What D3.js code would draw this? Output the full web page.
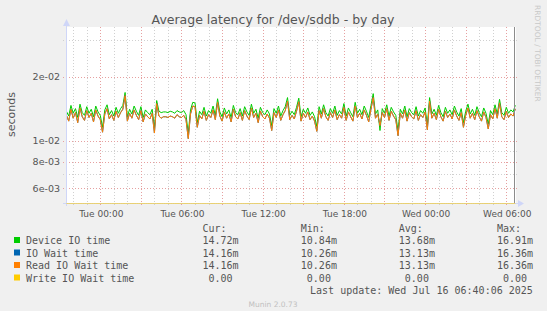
<!DOCTYPE html>
<html>
<head>
<meta charset="utf-8">
<script src="https://cdn.jsdelivr.net/npm/d3@7"></script>
<style>
  html, body { margin: 0; padding: 0; background: #f0f0f0; }
  svg { display: block; }
</style>
</head>
<body>
<svg id="chart" width="547" height="311"></svg>
<script>
// chart texts
const chartTitle = "Average latency for /dev/sddb - by day";
const yLabel = "seconds";
const lastUpdate = "Last update: Wed Jul 16 06:40:06 2025";
const muninVersion = "Munin 2.0.73";
const rrdCredit = "RRDTOOL / TOBI OETIKER";

// time axis: samples every 10 minutes starting here
const sampleStart = "2025-07-14T21:30";
const sampleStepMinutes = 10;
const axisStart = "2025-07-14T21:28";
const axisEnd = "2025-07-16T06:43";

// y ticks (log scale)
const yMajorTicks = [6e-3, 8e-3, 1e-2, 2e-2];
const yMajorLabels = ["6e-03", "8e-03", "1e-02", "2e-02"];
const yMinorTicks = [7e-3, 9e-3, 3e-2];
const yDomain = [5.11e-3, 3.436e-2];

// series values in milliseconds (m)
const deviceIO = [
  13.8, 13.1, 14.7, 13.5, 14.2, 12.9, 14.9, 13.6, 13.2, 14.5,
  13.5, 14.1, 13.0, 14.6, 13.7, 13.2, 11.6, 14.0, 14.8, 13.3,
  13.9, 13.1, 14.4, 13.5, 14.2, 14.7, 16.91, 13.0, 14.1, 13.4,
  14.6, 13.8, 13.2, 14.5, 12.9, 14.0, 13.6, 13.3, 14.1, 11.5,
  15.5, 13.8, 13.6, 13.7, 13.7, 13.6, 13.8, 13.7, 13.5, 13.9,
  13.7, 13.6, 13.9, 13.3, 10.84, 14.0, 15.2, 15.1, 12.2, 13.8,
  13.3, 14.4, 13.1, 13.9, 13.5, 14.6, 13.2, 15.8, 13.7, 13.0,
  14.3, 13.4, 14.0, 12.9, 14.7, 13.6, 13.3, 14.2, 13.1, 14.5,
  13.7, 13.2, 14.9, 13.5, 14.1, 12.8, 14.4, 13.6, 13.3, 14.0,
  13.4, 11.8, 14.2, 13.5, 14.6, 13.1, 13.9, 14.5, 16.0, 13.2,
  13.8, 13.3, 14.4, 15.9, 13.0, 14.1, 13.5, 14.3, 13.2, 13.7,
  13.0, 11.7, 14.5, 13.4, 14.8, 13.6, 13.1, 14.2, 13.5, 14.6,
  13.2, 13.9, 13.4, 15.0, 13.1, 14.3, 13.6, 13.0, 15.2, 13.5,
  14.1, 13.3, 14.6, 13.8, 12.9, 14.7, 16.7, 13.4, 14.0, 11.2,
  14.2, 13.5, 14.8, 13.1, 14.4, 13.7, 13.2, 11.2, 14.1, 13.4,
  14.6, 13.0, 14.2, 13.6, 13.3, 14.5, 13.1, 13.9, 13.5, 14.3,
  11.9, 16.0, 13.4, 14.1, 13.2, 14.7, 13.6, 13.0, 14.4, 13.5,
  14.0, 13.3, 14.6, 13.7, 13.1, 14.2, 12.2, 13.8, 14.9, 13.4,
  14.1, 13.2, 14.5, 13.6, 13.0, 14.3, 13.5, 12.0, 13.9, 13.3,
  14.8, 13.4, 15.7, 13.6, 13.2, 14.4, 13.5, 14.0, 13.7, 14.72
];

const readIOWait = [
  13.2, 12.4, 14.1, 12.8, 13.6, 12.2, 14.3, 13.0, 12.5, 13.9,
  12.9, 13.5, 12.3, 14.0, 13.1, 12.6, 11.0, 13.4, 14.2, 12.7,
  13.3, 12.5, 13.8, 12.9, 13.6, 14.1, 16.36, 12.4, 13.5, 12.8,
  14.0, 13.2, 12.6, 13.9, 12.3, 13.4, 13.0, 12.7, 13.5, 10.9,
  15.0, 13.1, 12.8, 13.0, 13.0, 12.9, 13.1, 13.0, 12.8, 13.3,
  13.0, 12.9, 13.2, 12.6, 10.26, 13.4, 14.6, 14.5, 11.6, 13.2,
  12.7, 13.8, 12.5, 13.3, 12.9, 14.0, 12.6, 15.2, 13.1, 12.4,
  13.7, 12.8, 13.4, 12.3, 14.1, 13.0, 12.7, 13.6, 12.5, 13.9,
  13.1, 12.6, 14.3, 12.9, 13.5, 12.2, 13.8, 13.0, 12.7, 13.4,
  12.8, 11.2, 13.6, 12.9, 14.0, 12.5, 13.3, 13.9, 15.4, 12.6,
  13.2, 12.7, 13.8, 15.3, 12.4, 13.5, 12.9, 13.7, 12.6, 13.1,
  12.4, 11.1, 13.9, 12.8, 14.2, 13.0, 12.5, 13.6, 12.9, 14.0,
  12.6, 13.3, 12.8, 14.4, 12.5, 13.7, 13.0, 12.4, 14.6, 12.9,
  13.5, 12.7, 14.0, 13.2, 12.3, 14.1, 16.0, 12.8, 13.4, 11.8,
  13.6, 12.9, 14.2, 12.5, 13.8, 13.1, 12.6, 10.6, 13.5, 12.8,
  14.0, 12.4, 13.6, 13.0, 12.7, 13.9, 12.5, 13.3, 12.9, 13.7,
  11.3, 15.4, 12.8, 13.5, 12.6, 14.1, 13.0, 12.4, 13.8, 12.9,
  13.4, 12.7, 14.0, 13.1, 12.5, 13.6, 11.6, 13.2, 14.3, 12.8,
  13.5, 12.6, 13.9, 13.0, 12.4, 13.7, 12.9, 11.4, 13.3, 12.7,
  14.2, 12.8, 15.1, 13.0, 12.6, 13.8, 12.9, 13.4, 13.1, 14.16
];

// IO Wait time reads identical to Read IO Wait time (same Cur/Min/Avg/Max)
const ioWait = readIOWait.slice();

const writeIOWait = [
  0,0,0,0,0,0,0,0,0,0, 0,0,0,0,0,0,0,0,0,0, 0,0,0,0,0,0,0,0,0,0, 0,0,0,0,0,0,0,0,0,0,
  0,0,0,0,0,0,0,0,0,0, 0,0,0,0,0,0,0,0,0,0, 0,0,0,0,0,0,0,0,0,0, 0,0,0,0,0,0,0,0,0,0,
  0,0,0,0,0,0,0,0,0,0, 0,0,0,0,0,0,0,0,0,0, 0,0,0,0,0,0,0,0,0,0, 0,0,0,0,0,0,0,0,0,0,
  0,0,0,0,0,0,0,0,0,0, 0,0,0,0,0,0,0,0,0,0, 0,0,0,0,0,0,0,0,0,0, 0,0,0,0,0,0,0,0,0,0,
  0,0,0,0,0,0,0,0,0,0, 0,0,0,0,0,0,0,0,0,0, 0,0,0,0,0,0,0,0,0,0, 0,0,0,0,0,0,0,0,0,0
];

// legend
const seriesNames = ["Device IO time", "IO Wait time", "Read IO Wait time", "Write IO Wait time"];
const seriesColors = ["#00cc00", "#0066b3", "#ff8000", "#ffcc00"];
const curValues = ["14.72m", "14.16m", "14.16m", " 0.00"];
const minValues = ["10.84m", "10.26m", "10.26m", " 0.00"];
const avgValues = ["13.68m", "13.13m", "13.13m", " 0.00"];
const maxValues = ["16.91m", "16.36m", "16.36m", " 0.00"];

const svg = d3.select("#chart");
const plot = { left: 66, right: 516, top: 27, bottom: 203 };
const parseTime = d3.utcParse("%Y-%m-%dT%H:%M");

const xScale = d3.scaleUtc()
  .domain([parseTime(axisStart), parseTime(axisEnd)])
  .range([plot.left, plot.right]);

const yScale = d3.scaleLog()
  .domain(yDomain)
  .range([plot.bottom, plot.top])
  .clamp(true);

const t0 = parseTime(sampleStart);
const timeAt = i => d3.utcMinute.offset(t0, i * sampleStepMinutes);
const crisp = v => Math.round(v) + 0.5;

// background + canvas
svg.append("rect").attr("width", 547).attr("height", 311).attr("fill", "#f0f0f0");
svg.append("rect")
  .attr("x", plot.left).attr("y", plot.top)
  .attr("width", plot.right - plot.left).attr("height", plot.bottom - plot.top)
  .attr("fill", "#ffffff");

// grid
const grid = svg.append("g").attr("class", "grid");
const hourTicks = d3.utcHour.every(1).range(xScale.domain()[0], xScale.domain()[1]);
const isMajorHour = d => d.getUTCHours() % 3 === 0;

grid.selectAll(".vminor")
  .data(hourTicks.filter(d => !isMajorHour(d)))
  .enter().append("line")
  .attr("x1", d => crisp(xScale(d))).attr("x2", d => crisp(xScale(d)))
  .attr("y1", plot.top).attr("y2", plot.bottom + 3)
  .style("stroke", "#d0d0d0").style("stroke-dasharray", "1,2");

grid.selectAll(".hminor")
  .data(yMinorTicks)
  .enter().append("line")
  .attr("x1", plot.left - 3).attr("x2", plot.right + 3)
  .attr("y1", d => crisp(yScale(d))).attr("y2", d => crisp(yScale(d)))
  .style("stroke", "#d0d0d0").style("stroke-dasharray", "1,2");

grid.selectAll(".vmajor")
  .data(hourTicks.filter(isMajorHour))
  .enter().append("line")
  .attr("x1", d => crisp(xScale(d))).attr("x2", d => crisp(xScale(d)))
  .attr("y1", plot.top).attr("y2", plot.bottom + 3)
  .style("stroke", "#e6a0a0").style("stroke-dasharray", "1,2");

grid.selectAll(".hmajor")
  .data(yMajorTicks)
  .enter().append("line")
  .attr("x1", plot.left - 3).attr("x2", plot.right + 3)
  .attr("y1", d => crisp(yScale(d))).attr("y2", d => crisp(yScale(d)))
  .style("stroke", "#e6a0a0").style("stroke-dasharray", "1,2");

// series lines, drawn in munin order
const lineGen = d3.line()
  .x((d, i) => xScale(timeAt(i)))
  .y(d => yScale(d > 0 ? d * 1e-3 : yDomain[0]));

const seriesData = [deviceIO, ioWait, readIOWait];
svg.append("g").selectAll("path")
  .data(seriesData)
  .enter().append("path")
  .attr("d", d => lineGen(d))
  .style("fill", "none")
  .style("stroke", (d, i) => seriesColors[i])
  .style("stroke-width", 1);

// axes
svg.append("line")
  .attr("x1", plot.left - 3).attr("x2", plot.right + 3)
  .attr("y1", plot.bottom + 0.5).attr("y2", plot.bottom + 0.5)
  .style("stroke", "#cfd6f8");
svg.append("line")
  .attr("x1", plot.left + 0.5).attr("x2", plot.left + 0.5)
  .attr("y1", plot.top - 6).attr("y2", plot.bottom + 3)
  .style("stroke", "#cfd6f8");

// write IO (zero) sits on the axis
svg.append("path")
  .attr("d", lineGen(writeIOWait))
  .attr("transform", "translate(0,0.5)")
  .style("fill", "none")
  .style("stroke", seriesColors[3])
  .style("stroke-opacity", 0.55)
  .style("stroke-width", 1);

// now line
svg.append("line")
  .attr("x1", crisp(xScale(timeAt(deviceIO.length - 1))) - 1)
  .attr("x2", crisp(xScale(timeAt(deviceIO.length - 1))) - 1)
  .attr("y1", plot.top).attr("y2", plot.bottom)
  .style("stroke", "#8c8c8c");

// arrows
svg.append("path")
  .attr("d", `M${plot.left - 3},${plot.top - 1} L${plot.left + 0.5},${plot.top - 8} L${plot.left + 4},${plot.top - 1} Z`)
  .style("fill", "#cfd6f8");
svg.append("path")
  .attr("d", `M${plot.right + 2},${plot.bottom - 3} L${plot.right + 8},${plot.bottom + 0.5} L${plot.right + 2},${plot.bottom + 4} Z`)
  .style("fill", "#cfd6f8");

// tick labels
const labelFont = "DejaVu Sans, sans-serif";
svg.append("g").selectAll("text")
  .data(yMajorTicks)
  .enter().append("text")
  .attr("x", 60)
  .attr("y", d => yScale(d) + 3.5)
  .attr("text-anchor", "end")
  .style("font-family", labelFont).style("font-size", "9.5px").style("fill", "#555")
  .text((d, i) => yMajorLabels[i]);

const xLabelTicks = d3.utcHour.every(6).range(xScale.domain()[0], xScale.domain()[1]);
const fmtX = d3.utcFormat("%a %H:%M");
svg.append("g").selectAll("text")
  .data(xLabelTicks)
  .enter().append("text")
  .attr("x", d => xScale(d) + 1)
  .attr("y", 217)
  .attr("text-anchor", "middle")
  .style("font-family", labelFont).style("font-size", "9px").style("fill", "#555")
  .text(d => fmtX(d));

// title, y label, credits
svg.append("text")
  .attr("x", 273).attr("y", 24)
  .attr("text-anchor", "middle")
  .style("font-family", labelFont).style("font-size", "12.5px").style("fill", "#555")
  .text(chartTitle);

svg.append("text")
  .attr("transform", "translate(15,114.5) rotate(-90)")
  .attr("text-anchor", "middle")
  .style("font-family", labelFont).style("font-size", "11px").style("fill", "#555")
  .text(yLabel);

svg.append("text")
  .attr("transform", "translate(535,5) rotate(90)")
  .attr("text-anchor", "start")
  .style("font-family", labelFont).style("font-size", "7.5px").style("fill", "#c8c8c8")
  .text(rrdCredit);

svg.append("text")
  .attr("x", 273).attr("y", 306.5)
  .attr("text-anchor", "middle")
  .style("font-family", labelFont).style("font-size", "7.5px").style("fill", "#c0c0c0")
  .text(muninVersion);

// legend
const monoFont = "DejaVu Sans Mono, monospace";
const legend = svg.append("g")
  .style("font-family", monoFont).style("font-size", "10px").style("fill", "#555")
  .style("white-space", "pre");
const colX = [202.4, 300.8, 398.8, 497];
const headers = ["Cur:", "Min:", "Avg:", "Max:"];
legend.selectAll(".hdr")
  .data(headers)
  .enter().append("text")
  .attr("x", (d, i) => colX[i]).attr("y", 232)
  .attr("xml:space", "preserve")
  .text(d => d);

const rowY = i => 244 + i * 12.5;
seriesNames.forEach((name, i) => {
  legend.append("rect")
    .attr("x", 14).attr("y", rowY(i) - 7)
    .attr("width", 6).attr("height", 6)
    .style("fill", seriesColors[i]);
  legend.append("text").attr("x", 26).attr("y", rowY(i)).text(name);
  [curValues, minValues, avgValues, maxValues].forEach((vals, j) => {
    legend.append("text")
      .attr("x", colX[j]).attr("y", rowY(i))
      .attr("xml:space", "preserve")
      .text(vals[i]);
  });
});

legend.append("text")
  .attr("x", 532.8).attr("y", 294)
  .attr("text-anchor", "end")
  .text(lastUpdate);
</script>
</body>
</html>
